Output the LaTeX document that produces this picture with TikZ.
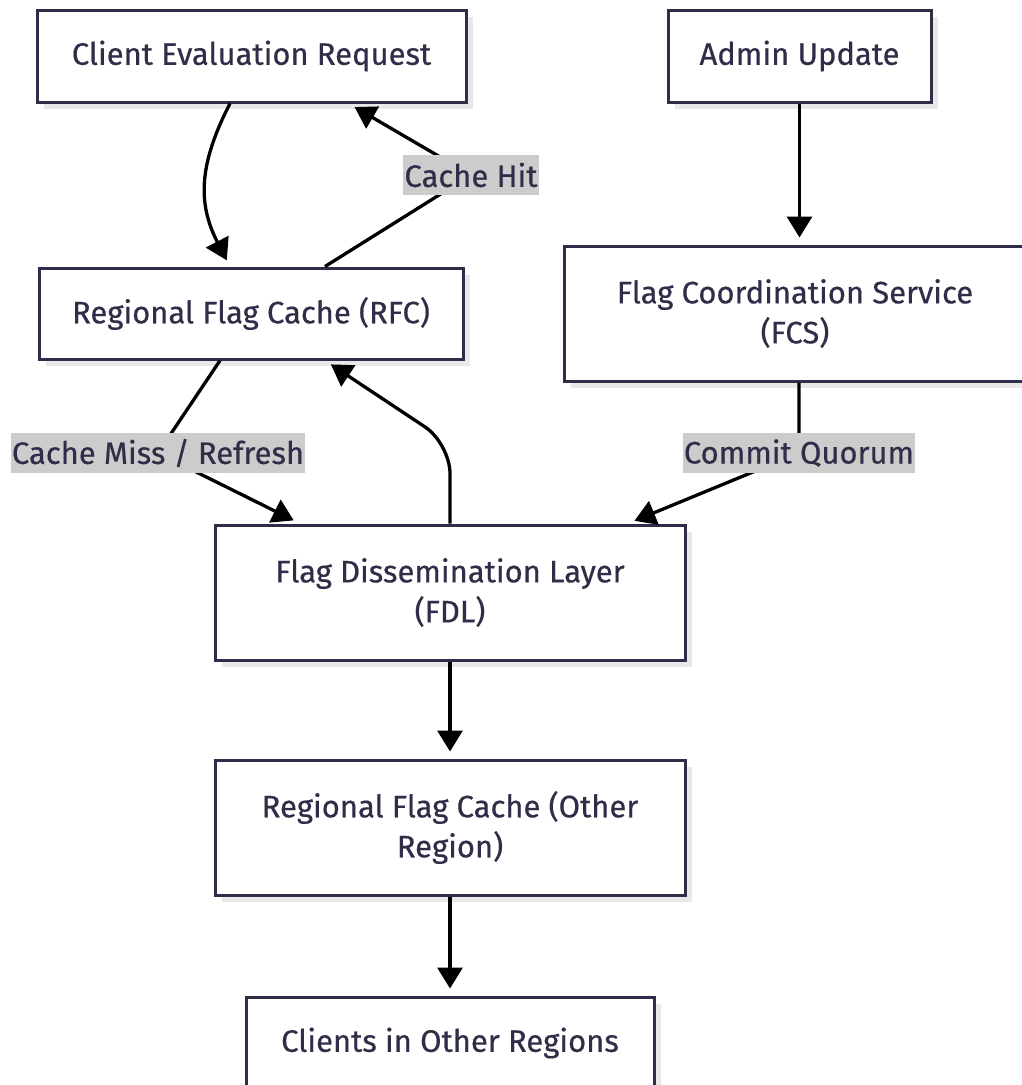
\documentclass[tikz,border=0pt]{standalone}
\usepackage{fontspec}
\setmainfont{Fira Sans}[FakeBold=0.5]
\usetikzlibrary{arrows.meta,shadows}
\definecolor{ink}{HTML}{2E2E48}
\definecolor{lblbg}{HTML}{CCCCCC}
\pgfdeclarelayer{fg}
\pgfsetlayers{main,fg}

\begin{document}
\begin{tikzpicture}[x=1pt,y=-1pt,
  box/.style={draw=ink, line width=3pt, fill=white, text=ink, align=center,
    font=\fontsize{31}{40}\selectfont, inner sep=0pt,
    drop shadow={shadow xshift=7pt, shadow yshift=-7pt, fill=black!9, opacity=1}},
  lbl/.style={fill=lblbg, text=ink, font=\fontsize{31}{40}\selectfont,
    inner xsep=1pt, inner ysep=0pt, minimum height=40pt},
  link/.style={line width=3.3pt, draw=black},
  arr/.style={link, -{Triangle[length=21pt,width=25pt]}, shorten >=7pt}
]
\useasboundingbox (0,0) rectangle (1022,1085);

% process boxes
\node[box, minimum width=429pt, minimum height=92pt] (cer) at (251.5,56) {Client Evaluation Request};
\node[box, minimum width=263pt, minimum height=92pt] (adm) at (799.5,56) {Admin Update};
\node[box, minimum width=424pt, minimum height=91pt] (rfc) at (251,313.5) {Regional Flag Cache (RFC)};
\node[box, minimum width=462pt, minimum height=135pt] (fcs) at (795,313.5) {Flag Coordination Service\\(FCS)};
\node[box, minimum width=470pt, minimum height=135pt] (fdl) at (450,592.5) {Flag Dissemination Layer\\(FDL)};
\node[box, minimum width=470pt, minimum height=135pt] (rfco) at (450,827.5) {Regional Flag Cache (Other\\Region)};
\node[box, minimum width=408pt, minimum height=92pt] (cli) at (450,1043) {Clients in Other Regions};

% edge labels sit above the connectors
\begin{pgfonlayer}{fg}
\node[lbl] (hit) at (471,175) {Cache Hit};
\node[lbl] (miss) at (158,453) {Cache Miss / Refresh};
\node[lbl] (quor) at (799,453) {Commit Quorum};
\end{pgfonlayer}

% connectors
\draw[arr] ([xshift=-21.5pt]cer.south) .. controls +(-32,62) and +(-32,-62) .. ([xshift=-21pt]rfc.north);
\draw[arr] ([xshift=74pt]rfc.north) -- (hit.center) -- ([xshift=97pt]cer.south);
\draw[arr] ([xshift=-31pt]rfc.south) -- (miss.center) -- ([xshift=-150pt]fdl.north);
\draw[arr, rounded corners=30pt] (fdl.north) -- ++(0,-80) -- ([xshift=74pt]rfc.south);
\draw[arr] (adm.south) -- (adm.south |- fcs.north);
\draw[arr] (fcs.south -| quor.center) -- (quor.center) -- ([xshift=178pt]fdl.north);
\draw[arr] (fdl.south) -- (rfco.north);
\draw[arr] (rfco.south) -- (cli.north);
\end{tikzpicture}
\end{document}
